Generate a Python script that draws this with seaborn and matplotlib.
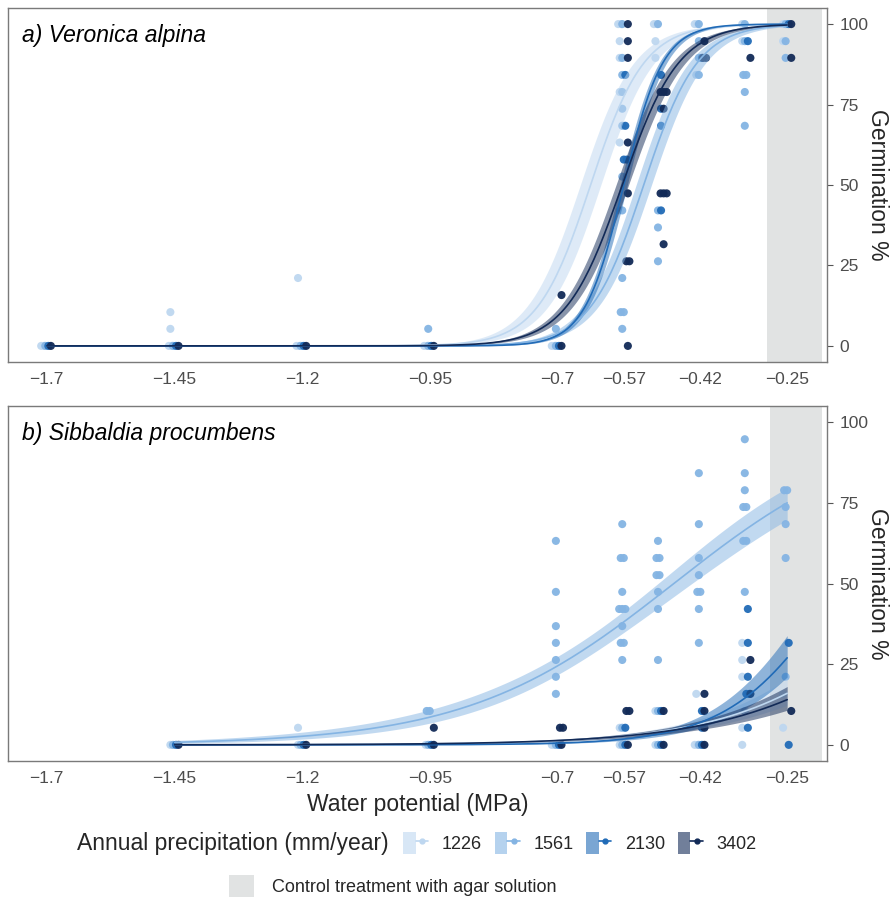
import numpy as np
import pandas as pd
import matplotlib
matplotlib.use("Agg")
import matplotlib.pyplot as plt
import seaborn as sns
from matplotlib.patches import Patch
from matplotlib.lines import Line2D
from matplotlib.legend_handler import HandlerTuple

# ---------------- data ----------------
groups = ["1226", "1561", "2130", "3402"]
group_colors = ["#bed7f0", "#84b4e3", "#216bb7", "#122a57"]

xticks = [-1.7, -1.45, -1.2, -0.95, -0.7, -0.57, -0.42, -0.25]
xtick_labels = ["\u22121.7", "\u22121.45", "\u22121.2", "\u22120.95",
                "\u22120.7", "\u22120.57", "\u22120.42", "\u22120.25"]
yticks = [0, 25, 50, 75, 100]

# a) Veronica alpina - observed germination (%)
va_1226_wp = [-1.7, -1.7, -1.45, -1.45, -1.45, -1.45, -1.2, -1.2, -1.2, -0.95, -0.95, -0.7, -0.7,
              -0.57, -0.57, -0.57, -0.57, -0.57, -0.57, -0.57, -0.5, -0.5, -0.5, -0.5,
              -0.42, -0.42, -0.42, -0.33, -0.33, -0.25, -0.25]
va_1226_germ = [0, 0, 0, 0, 5.3, 10.5, 0, 0, 21.1, 0, 0, 0, 0,
                100, 100, 94.7, 89.5, 78.9, 63.2, 42.1, 100, 100, 94.7, 89.5,
                100, 100, 84.2, 100, 94.7, 100, 94.7]
va_1561_wp = [-1.7, -1.45, -1.2, -0.95, -0.95, -0.7, -0.7,
              -0.57, -0.57, -0.57, -0.57, -0.57, -0.57, -0.57, -0.57, -0.57, -0.57, -0.57, -0.57,
              -0.5, -0.5, -0.5, -0.5, -0.42, -0.42, -0.42, -0.42,
              -0.33, -0.33, -0.33, -0.33, -0.33, -0.33, -0.25, -0.25, -0.25]
va_1561_germ = [0, 0, 0, 0, 5.3, 0, 5.3,
                100, 89.5, 84.2, 78.9, 73.7, 68.4, 52.6, 42.1, 21.1, 10.5, 10.5, 5.3,
                100, 42.1, 36.8, 26.3, 100, 94.7, 89.5, 84.2,
                100, 94.7, 84.2, 84.2, 78.9, 68.4, 100, 94.7, 89.5]
va_2130_wp = [-1.7, -1.45, -1.2, -0.95, -0.7, -0.57, -0.57, -0.57, -0.57,
              -0.5, -0.5, -0.5, -0.5, -0.42, -0.33, -0.25]
va_2130_germ = [0, 0, 0, 0, 0, 84.2, 68.4, 57.9, 57.9,
                84.2, 73.7, 68.4, 42.1, 89.5, 94.7, 100]
va_3402_wp = [-1.7, -1.45, -1.2, -0.95, -0.7, -0.7,
              -0.57, -0.57, -0.57, -0.57, -0.57, -0.57, -0.57, -0.57,
              -0.5, -0.5, -0.5, -0.5, -0.5, -0.5, -0.5, -0.5,
              -0.42, -0.42, -0.42, -0.33, -0.25, -0.25]
va_3402_germ = [0, 0, 0, 0, 0, 15.8,
                100, 94.7, 89.5, 63.2, 47.4, 26.3, 26.3, 0,
                78.9, 78.9, 78.9, 73.7, 47.4, 47.4, 47.4, 31.6,
                94.7, 89.5, 89.5, 89.5, 100, 89.5]

# b) Sibbaldia procumbens - observed germination (%)
sp_1226_wp = [-1.45, -1.2, -1.2, -0.95, -0.7, -0.7, -0.57, -0.57, -0.5, -0.5,
              -0.42, -0.42, -0.42, -0.33, -0.33, -0.33, -0.33, -0.33, -0.25, -0.25]
sp_1226_germ = [0, 0, 5.3, 0, 0, 0, 0, 5.3, 0, 10.5,
                15.8, 0, 0, 31.6, 26.3, 21.1, 5.3, 0, 5.3, 15.8]
sp_1561_wp = [-1.45, -1.2, -0.95, -0.95, -0.95,
              -0.7, -0.7, -0.7, -0.7, -0.7, -0.7, -0.7, -0.7,
              -0.57, -0.57, -0.57, -0.57, -0.57, -0.57, -0.57, -0.57, -0.57, -0.57, -0.57, -0.57, -0.57,
              -0.5, -0.5, -0.5, -0.5, -0.5, -0.5, -0.5, -0.5, -0.5, -0.5,
              -0.42, -0.42, -0.42, -0.42, -0.42, -0.42, -0.42, -0.42, -0.42,
              -0.33, -0.33, -0.33, -0.33, -0.33, -0.33, -0.33, -0.33, -0.33,
              -0.25, -0.25, -0.25, -0.25, -0.25, -0.25]
sp_1561_germ = [0, 0, 10.5, 10.5, 0,
                63.2, 47.4, 36.8, 31.6, 26.3, 21.1, 15.8, 0,
                68.4, 57.9, 57.9, 47.4, 42.1, 42.1, 42.1, 36.8, 31.6, 31.6, 26.3, 5.3, 0,
                63.2, 57.9, 57.9, 52.6, 52.6, 47.4, 42.1, 26.3, 10.5, 0,
                84.2, 68.4, 57.9, 52.6, 47.4, 47.4, 42.1, 31.6, 0,
                94.7, 84.2, 78.9, 73.7, 73.7, 63.2, 63.2, 47.4, 10.5,
                78.9, 78.9, 73.7, 68.4, 57.9, 21.1]
sp_2130_wp = [-1.45, -1.2, -0.95, -0.7, -0.57, -0.57, -0.5, -0.5,
              -0.42, -0.42, -0.42, -0.33, -0.33, -0.33, -0.33, -0.33, -0.33, -0.25, -0.25]
sp_2130_germ = [0, 0, 0, 0, 0, 5.3, 10.5, 0,
                10.5, 5.3, 0, 42.1, 31.6, 21.1, 15.8, 15.8, 5.3, 31.6, 0]
sp_3402_wp = [-1.45, -1.2, -0.95, -0.95, -0.7, -0.7, -0.7, -0.57, -0.57, -0.57,
              -0.5, -0.5, -0.42, -0.42, -0.42, -0.42, -0.33, -0.33, -0.25]
sp_3402_germ = [0, 0, 5.3, 0, 5.3, 5.3, 0, 10.5, 10.5, 0,
                10.5, 0, 15.8, 10.5, 5.3, 0, 26.3, 15.8, 10.5]

# fitted logistic dose-response curves
va_range = (-1.7, -0.25)
va_mid = [-0.635, -0.531, -0.570, -0.573]      # water potential at 50 %
va_slope = [19.0, 19.0, 26.0, 18.0]
va_ci0 = [0.38, 0.28, 0.18, 0.22]
va_ci1 = [0.8, 0.8, 0.6, 0.6]

sp_range = (-1.45, -0.25)
sp_mid = [0.03, -0.472, -0.144, 0.08]
sp_slope = [5.93, 4.95, 9.4, 5.5]
sp_ci0 = [0.22, 0.14, 0.25, 0.22]
sp_ci1 = [0.6, 0.64, 0.6, 0.6]

control_band = [(-0.289, -0.182), (-0.283, -0.182)]

# ---------------- helpers ----------------
dodge = {"1226": -0.008, "1561": -0.003, "2130": 0.003, "3402": 0.008}


def points_frame(wps, germs):
    rows = []
    for g, wp, ge in zip(groups, wps, germs):
        df = pd.DataFrame({"wp": wp, "germ": ge})
        df["prec"] = g
        df["dup"] = df.groupby(["wp", "germ"]).cumcount()
        df["n"] = df.groupby(["wp", "germ"])["germ"].transform("size")
        df["xpos"] = df["wp"] + dodge[g] + 0.006 * (df["dup"] - (df["n"] - 1) / 2)
        rows.append(df)
    return pd.concat(rows, ignore_index=True)


def curve_frame(rng, mids, slopes, ci0, ci1):
    xs = np.linspace(rng[0], rng[1], 300)
    rows = []
    for g, m, k, c0, c1 in zip(groups, mids, slopes, ci0, ci1):
        eta = k * (xs - m)
        se = np.sqrt(c0 ** 2 + (c1 * (xs + 0.6)) ** 2)
        rows.append(pd.DataFrame({
            "wp": xs,
            "fit": 100 / (1 + np.exp(-eta)),
            "lo": 100 / (1 + np.exp(-(eta - se))),
            "hi": 100 / (1 + np.exp(-(eta + se))),
            "prec": g}))
    return pd.concat(rows, ignore_index=True)


va_pts = points_frame([va_1226_wp, va_1561_wp, va_2130_wp, va_3402_wp],
                      [va_1226_germ, va_1561_germ, va_2130_germ, va_3402_germ])
sp_pts = points_frame([sp_1226_wp, sp_1561_wp, sp_2130_wp, sp_3402_wp],
                      [sp_1226_germ, sp_1561_germ, sp_2130_germ, sp_3402_germ])
va_fit = curve_frame(va_range, va_mid, va_slope, va_ci0, va_ci1)
sp_fit = curve_frame(sp_range, sp_mid, sp_slope, sp_ci0, sp_ci1)

# ---------------- plot ----------------
sns.set_style("white")
plt.rcParams["font.family"] = ["Liberation Sans", "DejaVu Sans"]
palette = dict(zip(groups, group_colors))

fig = plt.figure(figsize=(8.94, 8.97), dpi=100)
ax1 = fig.add_axes([8 / 894, 1 - 362 / 897, 819 / 894, 354 / 897])
ax2 = fig.add_axes([8 / 894, 1 - 761 / 897, 819 / 894, 355 / 897])

titles = ["a) Veronica alpina", "b) Sibbaldia procumbens"]
for ax, pts, fit, band, title in [(ax1, va_pts, va_fit, control_band[0], titles[0]),
                                  (ax2, sp_pts, sp_fit, control_band[1], titles[1])]:
    ax.axvspan(band[0], band[1], color="#e1e3e3", lw=0, zorder=0)
    sns.scatterplot(data=pts, x="xpos", y="germ", hue="prec", hue_order=groups,
                    palette=palette, s=34, linewidth=0, alpha=0.95, legend=False,
                    ax=ax, zorder=2)
    for g, c in zip(groups, group_colors):
        sub = fit[fit["prec"] == g]
        ax.fill_between(sub["wp"], sub["lo"], sub["hi"], color=c, alpha=0.5,
                        lw=0, zorder=3)
    sns.lineplot(data=fit, x="wp", y="fit", hue="prec", hue_order=groups,
                 palette=palette, estimator=None, sort=True, lw=1.2,
                 legend=False, ax=ax, zorder=4)
    ax.set_xlim(-1.776, -0.172)
    ax.set_ylim(-5, 105)
    ax.set_xticks(xticks)
    ax.set_xticklabels(xtick_labels)
    ax.set_yticks(yticks)
    ax.yaxis.tick_right()
    ax.yaxis.set_label_position("right")
    ax.set_ylabel("Germination %", fontsize=16.5, rotation=270, labelpad=15)
    ax.set_xlabel("")
    ax.tick_params(axis="both", length=4, width=0.8, color="#555555",
                   labelcolor="#4d4d4d", labelsize=12.5, pad=3)
    ax.tick_params(axis="y", pad=5)
    for sp in ax.spines.values():
        sp.set_visible(True)
        sp.set_color("#7a7a7a")
        sp.set_linewidth(1.0)
    ax.text(0.017, 0.904, title, transform=ax.transAxes, fontsize=16.5,
            style="italic", va="baseline", ha="left", color="black")

ax2.set_xlabel("Water potential (MPa)", fontsize=16.5, labelpad=5)

# legend
fig.text(77 / 894, 1 - 843 / 897, "Annual precipitation (mm/year)", fontsize=16.5,
         va="center", ha="left")
handles = [(Patch(facecolor=c, alpha=0.6, edgecolor="none"),
            Line2D([], [], color=c, marker="o", markersize=3.5, lw=1.2))
           for c in group_colors]
fig.legend(handles, groups, handler_map={tuple: HandlerTuple(ndivide=None)},
           ncol=4, loc="center left", bbox_to_anchor=(403 / 894, 1 - 843 / 897),
           frameon=False, fontsize=13, handlelength=1.4, handleheight=1.45,
           handletextpad=0.75, columnspacing=0.7, borderpad=0, borderaxespad=0)
fig.legend([Patch(facecolor="#e1e3e3", edgecolor="none")],
           ["Control treatment with agar solution"],
           loc="center left", bbox_to_anchor=(229 / 894, 1 - 886 / 897),
           frameon=False, fontsize=13, handlelength=1.4, handleheight=1.45,
           handletextpad=1.0, borderpad=0, borderaxespad=0)

fig.savefig("out.png", dpi=100)
